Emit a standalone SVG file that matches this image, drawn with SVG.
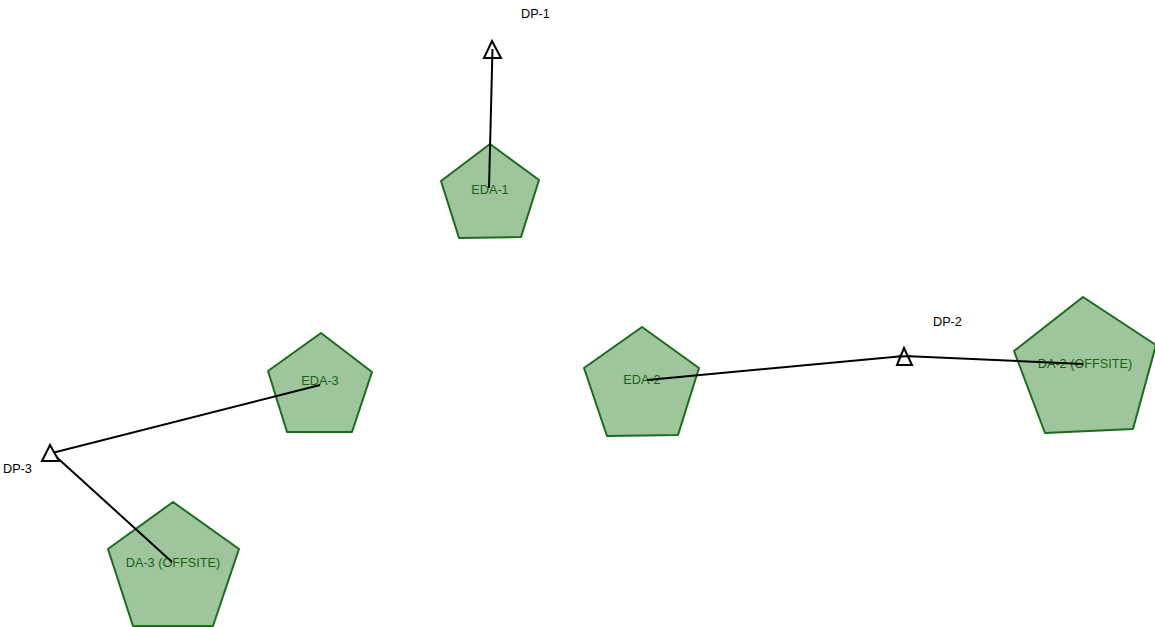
<svg xmlns="http://www.w3.org/2000/svg" width="1155" height="627" viewBox="0 0 1155 627">
<style>
.pent{fill:#9ec59b;stroke:#1d6b1d;stroke-width:2;stroke-linejoin:round}
.tri{fill:#ffffff;stroke:#000000;stroke-width:2;stroke-linejoin:miter}
.lbl{font-family:"Liberation Sans",Arial,sans-serif;font-size:12.7px;fill:#196319;text-anchor:middle}
.dpl{font-family:"Liberation Sans",Arial,sans-serif;font-size:12.7px;fill:#000000}
.con{fill:none;stroke:#000000;stroke-width:2}
</style>
<rect width="1155" height="627" fill="#ffffff"/>
<g id="EDA-1">
<polygon class="pent" points="490,144 539,180 521,237 459,238 441,181"/>
<text class="lbl" x="490" y="194">EDA-1</text>
</g>
<g id="EDA-2">
<polygon class="pent" points="642,327 699,368 678,435 607,436 584,368"/>
<text class="lbl" x="642" y="384">EDA-2</text>
</g>
<g id="EDA-3">
<polygon class="pent" points="321,333 372,372 352,432 287,432 268,371"/>
<text class="lbl" x="320" y="385">EDA-3</text>
</g>
<g id="DA-3">
<polygon class="pent" points="173,502 239,549 213,626 133,626 108,549"/>
<text class="lbl" x="173" y="567">DA-3 (OFFSITE)</text>
</g>
<g id="DA-2">
<polygon class="pent" points="1083,297 1156,345 1133,429 1045,433 1014,351"/>
<text class="lbl" x="1085" y="368">DA-2 (OFFSITE)</text>
</g>
<g id="connectors">
<line class="con" x1="492.5" y1="49" x2="489" y2="188"/>
<polyline class="con" points="647,380 904,356 1083,364"/>
<polyline class="con" points="320,385 52,453 172,562"/>
</g>
<g id="DP-1">
<polygon class="tri" points="492,41 484,58 501,58"/>
<line class="con" x1="492.5" y1="49" x2="492.3" y2="58"/>
<text class="dpl" x="521" y="18">DP-1</text>
</g>
<g id="DP-2">
<polygon class="tri" points="904,348 897,365 912,365"/>
<line class="con" x1="897" y1="356.6" x2="911" y2="356.2"/>
<text class="dpl" x="933" y="326">DP-2</text>
</g>
<g id="DP-3">
<polygon class="tri" points="50,445 42,461 59,461"/>
<text class="dpl" x="3" y="473">DP-3</text>
</g>
</svg>
